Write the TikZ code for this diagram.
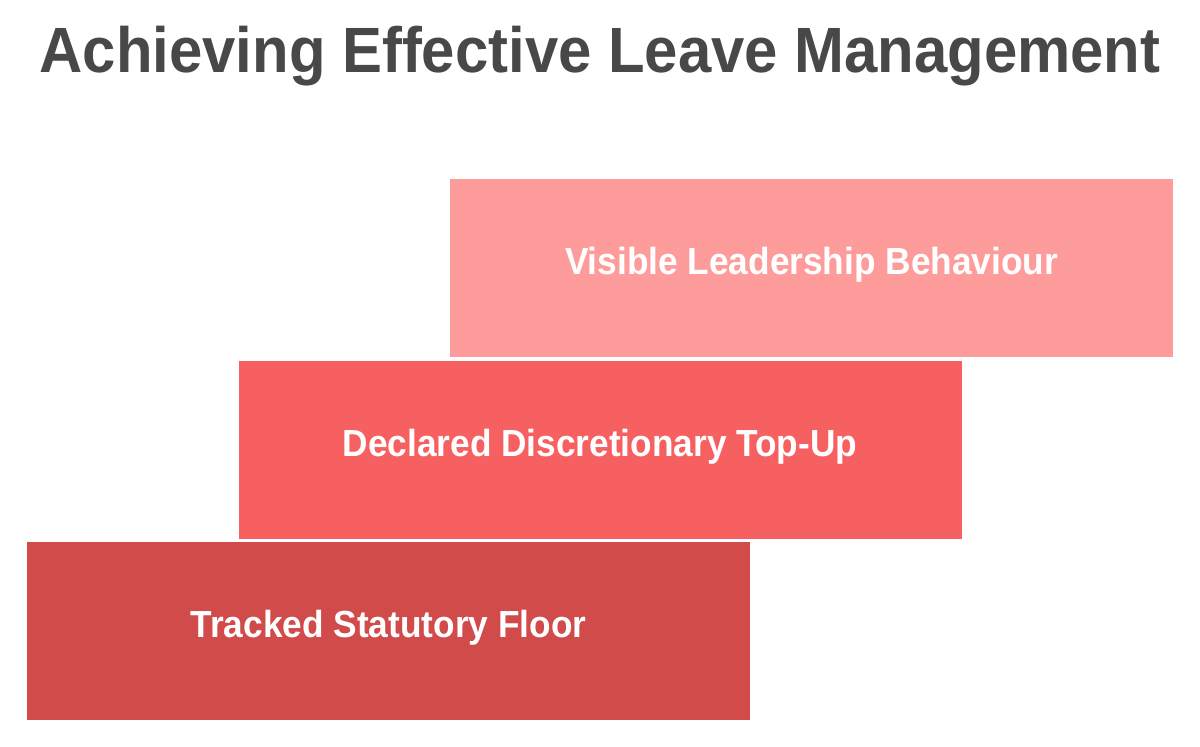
\documentclass[tikz,border=0pt]{standalone}
\usepackage{fontspec}
\setmainfont{Liberation Sans}[FakeStretch=0.935]
\usetikzlibrary{positioning}
\definecolor{tier1}{HTML}{D14B4A}
\definecolor{tier2}{HTML}{F76060}
\definecolor{tier3}{HTML}{FE9C9C}
\definecolor{titlegray}{HTML}{484848}
\tikzset{%
  stepbox/.style = { rectangle, draw=none, minimum width=723pt, minimum height=178pt, inner sep=0pt,
                     text=white, font=\fontsize{37.7}{40}\selectfont\bfseries, text height=27pt, text depth=14pt },
  heading/.style = { anchor=base, text=titlegray, font=\fontsize{64}{70}\selectfont\bfseries }
}
\begin{document}
\begin{tikzpicture}[x=1pt,y=-1pt]

  \useasboundingbox[fill=white] (0,0) rectangle (1200,747);

  % Title
  \node[heading] (title) at (600,72) {Achieving Effective Leave Management};

  % Steps, from the floor upwards
  \node[stepbox,fill=tier1] (floor) at (388.5,630.5) {Tracked Statutory Floor};
  \node[stepbox,fill=tier2] (topup) at (600,449.5) {Declared Discretionary Top-Up};
  \node[stepbox,fill=tier3] (leader) at (811.5,268) {Visible Leadership Behaviour};

\end{tikzpicture}
\end{document}
